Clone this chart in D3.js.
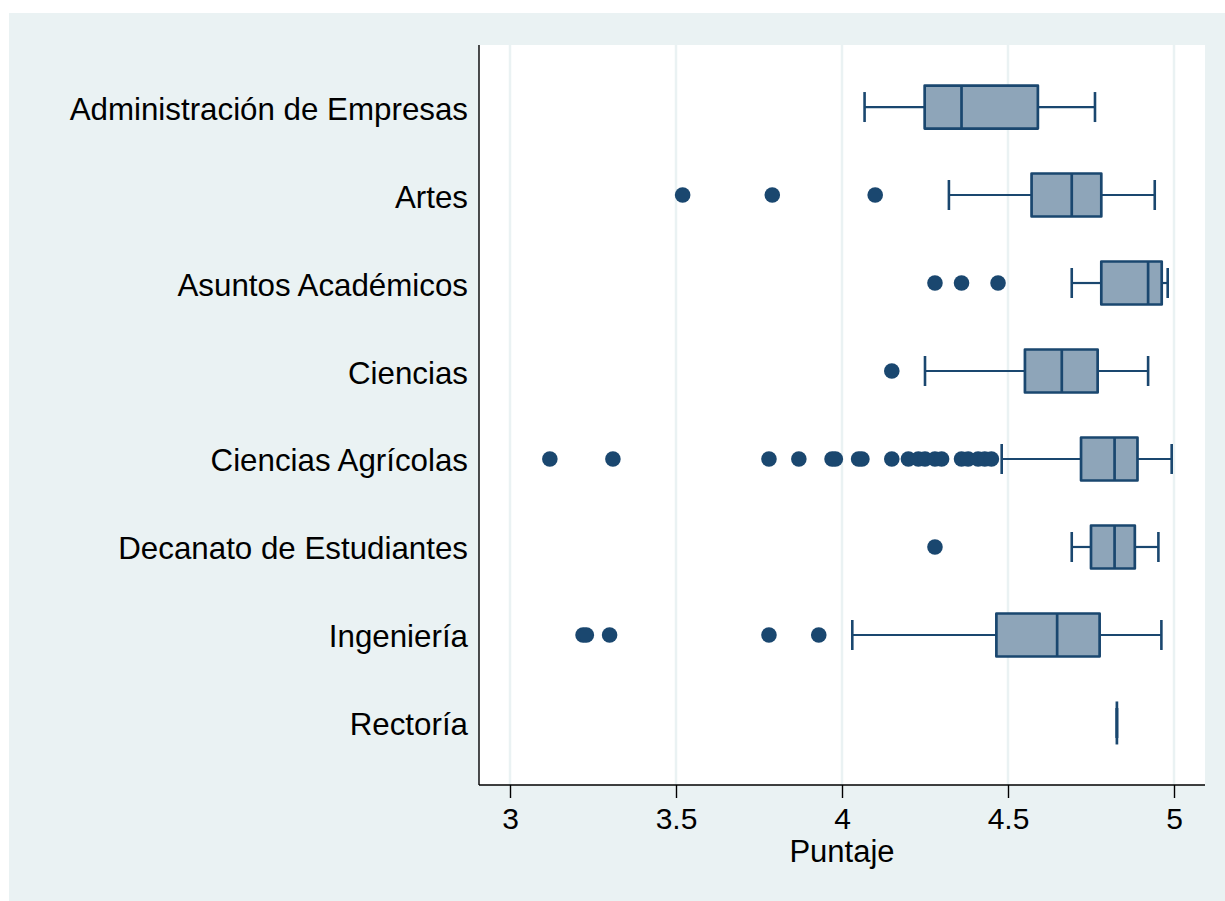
<!DOCTYPE html>
<html>
<head>
<meta charset="utf-8">
<script src="https://cdn.jsdelivr.net/npm/d3@7"></script>
<style>
  body { margin: 0; background: #fff; }
  text { font-family: "Liberation Sans", Arial, sans-serif; fill: #000; }
</style>
</head>
<body>
<svg id="chart" width="1225" height="901"></svg>
<script>
// data
const categories = ['Administración de Empresas', 'Artes', 'Asuntos Académicos', 'Ciencias',
  'Ciencias Agrícolas', 'Decanato de Estudiantes', 'Ingeniería', 'Rectoría'];
const whiskerLow  = [4.068, 4.322, 4.692, 4.250, 4.481, 4.692, 4.031, 4.828];
const quart1      = [4.249, 4.571, 4.781, 4.551, 4.720, 4.750, 4.465, 4.828];
const medians     = [4.360, 4.692, 4.922, 4.662, 4.821, 4.821, 4.648, 4.828];
const quart3      = [4.590, 4.781, 4.963, 4.770, 4.890, 4.882, 4.776, 4.828];
const whiskerHigh = [4.762, 4.942, 4.981, 4.922, 4.993, 4.953, 4.962, 4.828];
const outliers = [
  [],
  [3.52, 3.79, 4.10],
  [4.28, 4.36, 4.47],
  [4.15],
  [3.12, 3.31, 3.78, 3.87, 3.97, 3.98, 4.05, 4.06, 4.15, 4.20, 4.23, 4.25, 4.28, 4.30,
   4.36, 4.38, 4.41, 4.43, 4.45],
  [4.28],
  [3.22, 3.23, 3.30, 3.78, 3.93],
  []
];
const xTicks = [3, 3.5, 4, 4.5, 5];

const navy = '#1a476f';
const boxFill = '#8ea5b9';
const bg = '#eaf2f3';

const svg = d3.select('#chart');
const plot = {left: 479, right: 1205, top: 45, bottom: 785};

svg.append('rect')
  .attr('x', 9).attr('y', 13)
  .attr('width', 1225 - 9).attr('height', 901 - 13)
  .style('fill', bg);

svg.append('rect')
  .attr('x', plot.left).attr('y', plot.top)
  .attr('width', plot.right - plot.left).attr('height', plot.bottom - plot.top)
  .style('fill', '#fff');

const x = d3.scaleLinear().domain([3, 5]).range([510, 1174]);
const y = d3.scalePoint().domain(categories).range([plot.top, plot.bottom]).padding(0.705);

// grid
svg.append('g').selectAll('line')
  .data(xTicks).enter().append('line')
  .attr('x1', d => x(d)).attr('x2', d => x(d))
  .attr('y1', plot.top).attr('y2', plot.bottom)
  .style('stroke', bg).style('stroke-width', 2.5);

// x axis
const xAxis = svg.append('g')
  .attr('transform', `translate(0,${plot.bottom})`)
  .call(d3.axisBottom(x).tickValues(xTicks).tickSize(13).tickPadding(10).tickFormat(d3.format('')));
xAxis.select('.domain').remove();
xAxis.selectAll('.tick line').style('stroke', '#000').style('stroke-width', 1.4);
xAxis.selectAll('.tick text').style('font-size', '30px').style('font-family', '"Liberation Sans", Arial, sans-serif').style('fill', '#000');

svg.append('line')
  .attr('x1', plot.left).attr('x2', plot.right)
  .attr('y1', plot.bottom).attr('y2', plot.bottom)
  .style('stroke', '#000').style('stroke-width', 1.4);
svg.append('line')
  .attr('x1', plot.left).attr('x2', plot.left)
  .attr('y1', plot.top).attr('y2', plot.bottom)
  .style('stroke', '#000').style('stroke-width', 1.4);

svg.append('text')
  .attr('x', (plot.left + plot.right) / 2).attr('y', 862)
  .attr('text-anchor', 'middle')
  .style('font-size', '31px')
  .text('Puntaje');

// category labels
svg.append('g').selectAll('text')
  .data(categories).enter().append('text')
  .attr('x', 468)
  .attr('y', d => y(d) + 12.5)
  .attr('text-anchor', 'end')
  .style('font-size', '31.3px')
  .text(d => d);

// boxes
const boxH = 43, capH = 30;
const rows = categories.map((c, i) => ({
  c, lo: whiskerLow[i], q1: quart1[i], med: medians[i], q3: quart3[i], hi: whiskerHigh[i], out: outliers[i]
}));

const g = svg.append('g').selectAll('g.row')
  .data(rows).enter().append('g')
  .attr('transform', d => `translate(0,${y(d.c)})`);

g.append('line')
  .attr('x1', d => x(d.lo)).attr('x2', d => x(d.q1))
  .style('stroke', navy).style('stroke-width', 2.2);
g.append('line')
  .attr('x1', d => x(d.q3)).attr('x2', d => x(d.hi))
  .style('stroke', navy).style('stroke-width', 2.2);
g.selectAll('line.cap')
  .data(d => [d.lo, d.hi]).enter().append('line')
  .attr('x1', d => x(d)).attr('x2', d => x(d))
  .attr('y1', -capH / 2).attr('y2', capH / 2)
  .style('stroke', navy).style('stroke-width', 2.6);

g.append('rect')
  .attr('x', d => x(d.q1)).attr('width', d => x(d.q3) - x(d.q1))
  .attr('y', -boxH / 2).attr('height', boxH)
  .style('fill', boxFill).style('stroke', navy).style('stroke-width', 2.7)
  .style('stroke-linejoin', 'round');
g.append('line')
  .attr('x1', d => x(d.med)).attr('x2', d => x(d.med))
  .attr('y1', -boxH / 2).attr('y2', boxH / 2)
  .style('stroke', navy).style('stroke-width', 2.7);

g.selectAll('circle')
  .data(d => d.out).enter().append('circle')
  .attr('cx', d => x(d)).attr('cy', 0).attr('r', 7.8)
  .style('fill', navy);
</script>
</body>
</html>
